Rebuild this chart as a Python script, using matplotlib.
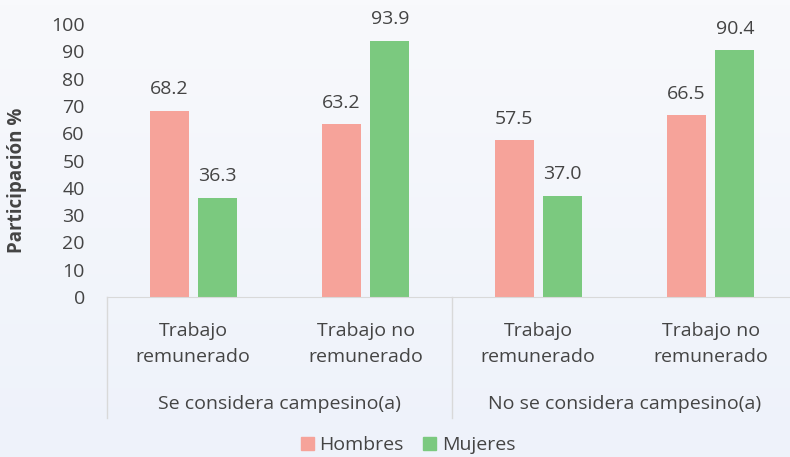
import numpy as np
import matplotlib.pyplot as plt
import matplotlib.transforms as mtransforms
from matplotlib.colors import LinearSegmentedColormap
from matplotlib.patches import Patch

plt.rcParams['font.family'] = ['Open Sans', 'DejaVu Sans']

groups = ['Se considera campesino(a)', 'No se considera campesino(a)']
categories = ['Trabajo\nremunerado', 'Trabajo no\nremunerado',
              'Trabajo\nremunerado', 'Trabajo no\nremunerado']
hombres = [68.2, 63.2, 57.5, 66.5]
mujeres = [36.3, 93.9, 37.0, 90.4]
yticks = list(range(0, 101, 10))

c_h = '#f6a39a'
c_m = '#7bc97f'
txt = '#444444'
fs = 14

W, H = 790, 457
fig = plt.figure(figsize=(W / 100, H / 100), dpi=100)

# soft background gradient
bg = fig.add_axes([0, 0, 1, 1], zorder=-10)
cmap = LinearSegmentedColormap.from_list('bg', ['#f8f9fc', '#eef2fa'])
bg.imshow(np.linspace(0, 1, 100).reshape(-1, 1), aspect='auto', cmap=cmap,
          extent=[0, 1, 0, 1])
bg.axis('off')

ax = fig.add_axes([107 / W, 1 - 297 / H, 690 / W, (297 - 24) / H])
ax.patch.set_alpha(0)

x = np.arange(len(categories))
bw = 0.225
off = 0.14
b1 = ax.bar(x - off, hombres, bw, color=c_h, label='Hombres')
b2 = ax.bar(x + off, mujeres, bw, color=c_m, label='Mujeres')

for bars, vals in ((b1, hombres), (b2, mujeres)):
    for b, v in zip(bars, vals):
        ax.annotate(f'{v:.1f}', (b.get_x() + b.get_width() / 2, v),
                    xytext=(0, 9), textcoords='offset points',
                    ha='center', va='bottom', fontsize=fs, color=txt)

ax.set_xlim(-0.5, 3.5)
ax.set_ylim(0, 100)
ax.set_yticks(yticks)
ax.tick_params(axis='y', length=0, pad=16, labelsize=fs, labelcolor=txt)
ax.set_xticks([])
for s in ('top', 'right', 'left'):
    ax.spines[s].set_visible(False)
ax.spines['bottom'].set_color('#d9d9d9')

tr = mtransforms.blended_transform_factory(ax.transData, fig.transFigure)
for xi, lab in zip(x, categories):
    ax.text(xi, 1 - 344 / H, lab, transform=tr, ha='center', va='center',
            fontsize=fs, color=txt, linespacing=1.5)
for gi, g in enumerate(groups):
    ax.text(gi * 2 + 0.5, 1 - 404 / H, g, transform=tr, ha='center',
            va='center', fontsize=fs, color=txt)
for xs in (-0.5, 1.5, 3.5):
    ax.plot([xs, xs], [1 - 297 / H, 1 - 418 / H], transform=tr,
            color='#d9d9d9', lw=1, clip_on=False)

fig.text(17 / W, 1 - 180 / H, 'Participación %', rotation=90, ha='center',
         va='center', fontsize=13.5, fontweight='bold', color=txt)

handles = [Patch(color=c_h, label='Hombres'), Patch(color=c_m, label='Mujeres')]
fig.legend(handles=handles, loc='center', bbox_to_anchor=(408 / W, 1 - 445 / H),
           ncol=2, frameon=False, fontsize=fs, handlelength=0.65,
           handleheight=0.65, handletextpad=0.3, columnspacing=1.0,
           labelcolor=txt)

fig.savefig('out.png', dpi=100)
